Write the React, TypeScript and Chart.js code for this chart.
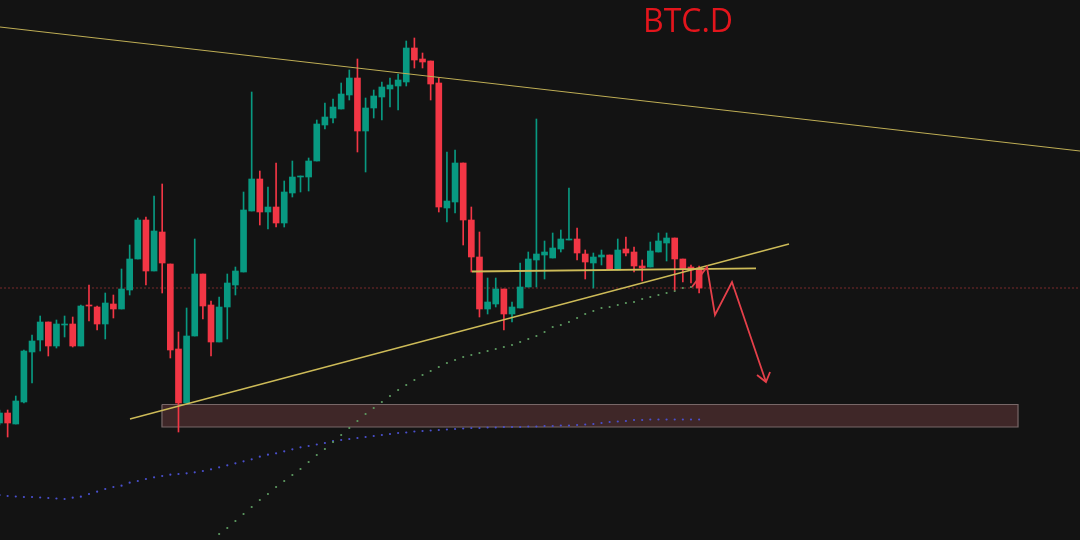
import React, { useEffect, useRef } from "react";
import { Chart, registerables } from "chart.js";
Chart.register(...registerables);

// ---- Candles (BTC.D, %) ----
const opens = [55.77,55.87,55.76,55.98,56.48,56.60,56.78,56.54,56.75,56.76,
56.54,56.95,56.93,56.76,56.96,56.91,57.10,57.41,57.80,57.29,
57.68,57.36,56.51,55.97,56.64,57.26,56.95,56.58,56.93,57.15,
57.28,57.89,58.21,57.88,57.93,57.77,58.07,58.23,58.23,58.39,
58.75,58.82,58.91,59.05,59.22,58.69,58.92,59.03,59.11,59.14,
59.18,59.52,59.41,59.39,59.17,57.92,57.98,58.37,57.80,57.43,
56.91,56.96,57.11,56.86,56.92,57.13,57.40,57.45,57.42,57.51,
57.60,57.61,57.46,57.37,57.43,57.45,57.30,57.51,57.48,57.34,
57.33,57.48,57.57,57.62,57.41,57.33,57.32];
const highs = [55.90,55.90,56.04,56.50,56.65,56.84,56.78,56.80,56.84,56.83,
56.95,57.15,56.94,57.07,57.05,57.31,57.55,57.82,57.83,58.04,
58.16,57.36,56.68,56.92,57.61,57.26,56.99,57.03,57.26,57.33,
58.08,59.08,58.29,58.13,58.37,58.19,58.39,58.24,58.42,58.80,
58.97,59.01,59.17,59.30,59.41,59.02,59.10,59.18,59.22,59.26,
59.59,59.62,59.47,59.39,59.22,58.48,58.50,58.37,57.93,57.68,
57.22,57.22,57.11,56.98,57.37,57.48,58.81,57.59,57.67,57.70,
58.12,57.72,57.50,57.47,57.50,57.45,57.61,57.63,57.53,57.40,
57.58,57.67,57.67,57.62,57.41,57.35,57.34];
const lows = [55.75,55.63,55.76,55.97,56.17,56.49,56.44,56.52,56.63,56.53,
56.54,56.79,56.70,56.61,56.82,56.91,57.05,57.41,57.15,57.29,
57.07,56.42,55.68,55.97,56.64,56.81,56.44,56.58,56.61,57.05,
57.28,57.89,57.75,57.71,57.73,57.73,58.03,58.08,58.09,58.39,
58.71,58.77,58.91,59.00,58.48,58.28,58.82,58.80,58.93,58.90,
59.14,59.32,59.32,59.00,57.88,57.78,57.87,57.55,57.28,56.83,
56.86,56.93,56.70,56.78,56.92,57.13,57.13,57.21,57.42,57.48,
57.60,57.40,57.21,57.12,57.35,57.31,57.30,57.44,57.28,57.19,
57.33,57.48,57.39,57.10,57.18,57.17,57.07];
const closes = [55.87,55.77,55.99,56.49,56.59,56.78,56.54,56.76,56.76,56.54,
56.94,56.94,56.76,56.97,56.91,57.11,57.41,57.80,57.29,57.69,
57.37,56.50,55.97,56.64,57.26,56.94,56.58,56.93,57.17,57.29,
57.90,58.21,57.88,57.93,57.77,58.08,58.23,58.24,58.39,58.76,
58.83,58.93,59.06,59.22,58.69,58.92,59.04,59.13,59.15,59.20,
59.52,59.40,59.38,59.16,57.93,57.99,58.37,57.80,57.43,56.91,
56.98,57.11,56.86,56.93,57.13,57.41,57.46,57.48,57.52,57.61,
57.61,57.47,57.38,57.43,57.45,57.31,57.50,57.47,57.34,57.32,
57.49,57.59,57.62,57.41,57.31,57.30,57.12];

// ---- Moving averages (dotted) ----
const slowMA = [55.05,55.04,55.035,55.03,55.03,55.025,55.02,55.015,55.01,55.023,
55.033,55.06,55.083,55.11,55.13,55.143,55.173,55.19,55.21,55.227,
55.24,55.253,55.26,55.267,55.277,55.29,55.307,55.327,55.347,55.367,
55.387,55.407,55.433,55.453,55.467,55.487,55.507,55.527,55.54,55.555,
55.57,55.59,55.60,55.61,55.62,55.63,55.64,55.65,55.66,55.67,
55.675,55.685,55.69,55.695,55.70,55.705,55.71,55.715,55.72,55.72,
55.725,55.725,55.73,55.73,55.73,55.735,55.735,55.74,55.74,55.745,
55.745,55.75,55.755,55.76,55.77,55.78,55.785,55.79,55.80,55.80,
55.805,55.805,55.805,55.805,55.805,55.805,55.805];
const fastMAStart = 27;
const fastMA = [54.66,54.72,54.79,
54.86,54.93,55.00,55.06,55.13,55.19,55.25,55.31,55.38,55.45,
55.51,55.58,55.65,55.72,55.79,55.86,55.92,55.98,56.04,56.10,
56.15,56.20,56.25,56.29,56.33,56.37,56.40,56.43,56.45,56.47,
56.49,56.51,56.53,56.55,56.58,56.61,56.64,56.68,56.73,56.75,
56.78,56.82,56.86,56.89,56.92,56.93,56.95,56.97,56.98,57.01,
57.03,57.05,57.07,57.09,57.12,57.13,57.15];

// ---- Drawings ----
const xMin = 0.0615;
const xMax = 132.82;
const upperTrendX = [0.0615, 132.82];
const upperTrendY = [59.73, 58.49];
const lowerTrendX = [16.04, 97.05];
const lowerTrendY = [55.81, 57.56];
const levelX = [58.08, 92.99];
const levelY = [57.285, 57.317];
const redLevel = 57.12;
const zoneX = [19.97, 125.2];
const zoneTop = 55.955;
const zoneBottom = 55.73;
const arrowX = [85.12, 86.97, 87.95, 90.04, 94.22];
const arrowY = [57.13, 57.33, 56.85, 57.18, 56.18];
const arrowHeadX = [93.12, 94.22, 94.72];
const arrowHeadY = [56.25, 56.18, 56.28];
const yMin = 54.6;
const yMax = 60.0;

const UP = "#089981";
const DOWN = "#f23645";
const YELLOW = "#cdbb58";

const pts = (xs: number[], ys: number[]) => xs.map((x, i) => ({ x, y: ys[i] }));

export default function App() {
  const ref = useRef<HTMLCanvasElement>(null);
  useEffect(() => {
    if (!ref.current) return;
    const idx = opens.map((_, i) => i);
    const colors = idx.map((i) => (closes[i] >= opens[i] ? UP : DOWN));
    const lineBase = { type: "line" as const, pointRadius: 0, pointHoverRadius: 0, tension: 0, fill: false };
    const chart = new Chart(ref.current, {
      type: "bar",
      data: {
        datasets: [
          // arrow
          { ...lineBase, data: pts(arrowX, arrowY), borderColor: "#e5404a", borderWidth: 1.8, order: 0 } as any,
          { ...lineBase, data: pts(arrowHeadX, arrowHeadY), borderColor: "#e5404a", borderWidth: 1.8, order: 0 } as any,
          // yellow trend lines
          { ...lineBase, data: pts(upperTrendX, upperTrendY), borderColor: "#bfae55", borderWidth: 1, order: 1 } as any,
          { ...lineBase, data: pts(lowerTrendX, lowerTrendY), borderColor: YELLOW, borderWidth: 1.3, order: 1 } as any,
          { ...lineBase, data: pts(levelX, levelY), borderColor: YELLOW, borderWidth: 1.8, order: 1 } as any,
          // candle bodies
          {
            type: "bar",
            data: idx.map((i) => ({ x: i, y: [opens[i], closes[i]] })),
            backgroundColor: colors,
            borderWidth: 0,
            barThickness: 6,
            minBarLength: 1,
            grouped: false,
            order: 2,
          } as any,
          // wicks
          {
            type: "bar",
            data: idx.map((i) => ({ x: i, y: [lows[i], highs[i]] })),
            backgroundColor: colors,
            borderWidth: 0,
            barThickness: 1,
            grouped: false,
            order: 3,
          } as any,
          // dotted MAs
          {
            type: "line",
            data: fastMA.map((v, k) => ({ x: fastMAStart + k, y: v })),
            showLine: false,
            pointRadius: 1.1,
            pointHoverRadius: 0,
            pointBorderWidth: 0,
            pointBackgroundColor: "#5e9c62",
            order: 4,
          } as any,
          {
            type: "line",
            data: slowMA.map((v, k) => ({ x: k, y: v })),
            showLine: false,
            pointRadius: 1.1,
            pointHoverRadius: 0,
            pointBorderWidth: 0,
            pointBackgroundColor: "#4a50cf",
            order: 4,
          } as any,
          // red dotted level
          {
            ...lineBase,
            data: pts([xMin, xMax], [redLevel, redLevel]),
            borderColor: "#7a2a2c",
            borderWidth: 1,
            borderDash: [2, 2],
            order: 5,
          } as any,
          // zone border
          {
            ...lineBase,
            data: pts(
              [zoneX[0], zoneX[1], zoneX[1], zoneX[0], zoneX[0]],
              [zoneTop, zoneTop, zoneBottom, zoneBottom, zoneTop]
            ),
            borderColor: "#786868",
            borderWidth: 1.2,
            order: 6,
          } as any,
          // zone fill
          {
            type: "line",
            data: pts(zoneX, [zoneTop, zoneTop]),
            pointRadius: 0,
            pointHoverRadius: 0,
            borderWidth: 0,
            fill: { value: zoneBottom },
            backgroundColor: "#3f2728",
            order: 7,
          } as any,
        ],
      },
      options: {
        responsive: false,
        animation: false,
        layout: { padding: 0, autoPadding: false },
        plugins: { legend: { display: false }, tooltip: { enabled: false }, title: { display: false } },
        scales: {
          x: { type: "linear", min: xMin, max: xMax, display: false, offset: false },
          y: { type: "linear", min: yMin, max: yMax, display: false },
        },
      } as any,
    });
    return () => chart.destroy();
  }, []);

  return (
    <div style={{ position: "fixed", left: 0, top: 0, width: 1080, height: 540, background: "#131313", overflow: "hidden" }}>
      <canvas ref={ref} width={1080} height={540} style={{ display: "block", width: 1080, height: 540 }} />
      <div
        style={{
          position: "absolute",
          left: 643,
          top: 4,
          fontFamily: "'Open Sans', sans-serif",
          fontSize: 32,
          lineHeight: 1,
          color: "#e3151c",
          whiteSpace: "nowrap",
        }}
      >
        BTC.D
      </div>
    </div>
  );
}
